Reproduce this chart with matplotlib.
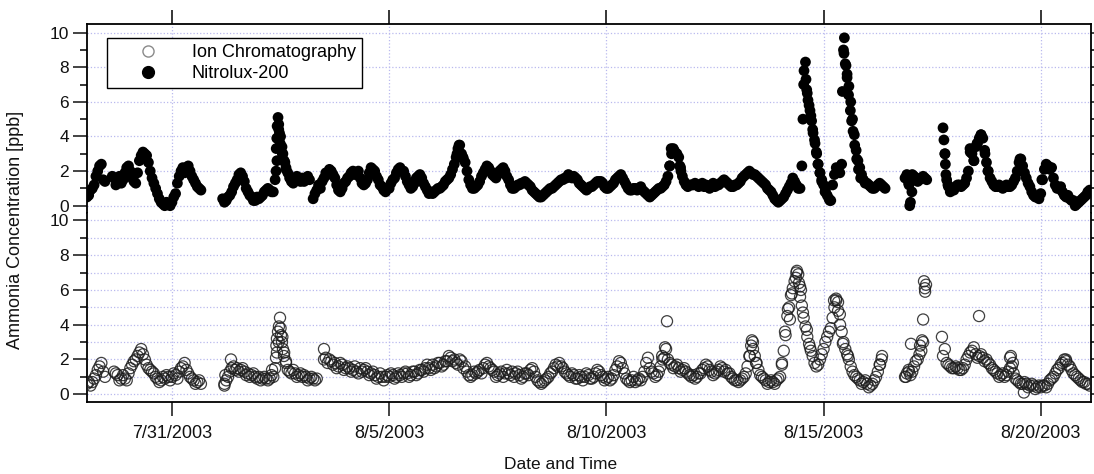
import numpy as np
import matplotlib
matplotlib.use('Agg')
import matplotlib.pyplot as plt
import matplotlib.dates as mdates
from matplotlib.ticker import MultipleLocator, FixedLocator, FuncFormatter
from matplotlib.lines import Line2D

plt.rcParams['font.family'] = ['Liberation Sans', 'DejaVu Sans']

nan = np.nan
start = np.datetime64('2003-07-29T00:00')
step_hours = 2  # readings on even hours (…_even) and odd hours (…_odd)

# Nitrolux-200 [ppb] at even hours 0,2,...,22 (one row per day)
nitrolux_even = [
    nan, 0.6, 1.0, 1.7, 2.3, 1.5, nan, nan, 1.6, 1.4, 1.3, 1.9,   # 7/29
    2.3, 1.6, 1.3, 2.6, 3.1, 2.9, 2.0, 1.3, 0.7, 0.2, 0.0, 0.1,   # 7/30
    0.2, 0.7, 1.7, 2.2, 2.2, 2.0, 1.5, 1.1, 0.9, nan, nan, nan,   # 7/31
    nan, nan, 0.4, 0.3, 0.6, 1.1, 1.5, 1.9, 1.4, 0.8, 0.5, 0.3,   # 8/1
    0.4, 0.6, 0.9, 0.9, 0.8, 2.6, 4.0, 2.6, 1.9, 1.4, 1.5, 1.6,   # 8/2
    1.6, 1.6, 1.5, 0.4, 0.9, 1.0, 1.6, 1.8, 2.0, 1.6, 0.9, 1.0,   # 8/3
    1.4, 1.7, 2.0, 1.9, 1.6, 1.2, 1.5, 2.2, 2.0, 1.5, 1.1, 0.8,   # 8/4
    1.0, 1.5, 1.9, 2.2, 2.0, 1.4, 1.0, 1.3, 1.7, 1.6, 1.1, 0.7,   # 8/5
    0.7, 0.9, 1.0, 1.2, 1.5, 1.8, 2.4, 3.3, 3.0, 2.5, 1.5, 1.0,   # 8/6
    1.1, 1.4, 1.9, 2.3, 2.0, 1.7, 1.8, 2.1, 2.0, 1.5, 1.0, 1.1,   # 8/7
    1.2, 1.3, 1.3, 1.1, 0.8, 0.6, 0.5, 0.7, 0.9, 1.0, 1.2, 1.4,   # 8/8
    1.5, 1.6, 1.7, 1.7, 1.5, 1.2, 1.0, 1.0, 1.1, 1.3, 1.4, 1.3,   # 8/9
    1.0, 1.1, 1.3, 1.6, 1.8, 1.4, 1.0, 0.9, 1.0, 1.0, 0.9, 0.7,   # 8/10
    0.5, 0.7, 0.9, 1.0, 1.2, 1.7, 3.0, 3.1, 2.8, 1.7, 1.2, 1.2,   # 8/11
    1.2, 1.2, 1.2, 1.1, 1.1, 1.2, 1.1, 1.2, 1.4, 1.4, 1.2, 1.1,   # 8/12
    1.2, 1.4, 1.7, 1.9, 1.9, 1.8, 1.6, 1.4, 1.2, 0.9, 0.6, 0.3,   # 8/13
    0.3, 0.5, 0.9, 1.3, 1.4, 1.0, 2.3, 8.3, 5.8, 4.4, 3.1, 1.9,   # 8/14
    1.2, 0.6, 0.3, 1.8, 2.0, 2.4, 8.2, 6.9, 5.0, 3.2, 2.2, 1.5,   # 8/15
    1.3, 1.1, 1.0, 1.2, 1.2, 1.0, nan, nan, nan, nan, nan, 1.8,   # 8/16
    0.2, 1.7, 1.4, 1.6, 1.6, nan, nan, nan, nan, 4.5, 1.5, 0.8,   # 8/17
    0.9, 1.2, 1.1, 1.3, 2.0, 3.0, 3.4, 3.9, 3.9, 2.5, 1.6, 1.2,   # 8/18
    1.1, 1.1, 1.1, 1.1, 1.2, 1.6, 2.5, 2.3, 1.6, 1.1, 0.6, 0.5,   # 8/19
    0.7, 2.1, 2.3, 2.2, 1.2, 1.0, 0.8, 0.5, 0.4, 0.3, 0.1, 0.3,   # 8/20
    0.5, 0.8,                                                     # 8/21
]
# Nitrolux-200 [ppb] at odd hours 1,3,...,23
nitrolux_odd = [
    0.5, 0.9, 1.2, 2.0, 2.4, 1.4, nan, 1.7, 1.2, 1.7, 1.5, 2.2,   # 7/29
    2.0, 1.4, 1.9, 2.9, 3.0, 2.5, 1.6, 1.0, 0.4, 0.1, 0.2, 0.0,   # 7/30
    0.5, 1.3, 2.0, 1.9, 2.3, 1.7, 1.3, 1.0, nan, nan, nan, nan,   # 7/31
    nan, nan, 0.2, 0.5, 0.8, 1.3, 1.8, 1.7, 1.0, 0.6, 0.3, 0.5,   # 8/1
    0.5, 0.8, 1.0, 0.8, 1.5, 4.4, 3.0, 2.2, 1.6, 1.3, 1.7, 1.4,   # 8/2
    1.4, 1.7, nan, 0.7, 1.2, 1.4, 1.9, 2.1, 1.8, 1.2, 0.8, 1.3,   # 8/3
    1.6, 1.9, 1.8, 2.0, 1.3, 1.3, 1.9, 2.1, 1.7, 1.2, 0.9, 1.0,   # 8/4
    1.3, 1.6, 2.1, 2.0, 1.7, 1.2, 1.1, 1.6, 1.8, 1.3, 0.9, 0.8,   # 8/5
    0.8, 1.0, 1.1, 1.4, 1.6, 2.1, 2.8, 3.5, 2.7, 2.0, 1.2, 1.0,   # 8/6
    1.2, 1.7, 2.1, 2.2, 1.8, 1.6, 2.0, 2.2, 1.7, 1.2, 1.0, 1.2,   # 8/7
    1.3, 1.4, 1.2, 0.9, 0.7, 0.5, 0.6, 0.8, 1.0, 1.1, 1.3, 1.5,   # 8/8
    1.6, 1.8, 1.6, 1.6, 1.3, 1.1, 0.9, 1.1, 1.2, 1.4, 1.4, 1.1,   # 8/9
    1.0, 1.2, 1.5, 1.7, 1.6, 1.2, 0.9, 1.0, 0.9, 1.1, 0.8, 0.6,   # 8/10
    0.6, 0.8, 1.0, 1.1, 1.4, 2.3, 3.3, 3.0, 2.2, 1.4, 1.1, 1.2,   # 8/11
    1.3, 1.1, 1.3, 1.2, 1.0, 1.3, 1.2, 1.3, 1.5, 1.3, 1.1, 1.2,   # 8/12
    1.3, 1.6, 1.8, 2.0, 1.8, 1.7, 1.5, 1.3, 1.0, 0.8, 0.4, 0.2,   # 8/13
    0.4, 0.7, 1.1, 1.6, 1.2, 1.0, 7.0, 6.5, 5.2, 3.8, 2.4, 1.5,   # 8/14
    0.9, 0.4, 1.2, 2.2, 1.9, 9.0, 7.6, 6.0, 4.1, 2.6, 1.8, 1.3,   # 8/15
    1.2, 1.0, 1.1, 1.3, 1.1, nan, nan, nan, nan, nan, 1.6, 1.3,   # 8/16
    1.8, 1.6, 1.5, 1.7, 1.5, nan, nan, nan, nan, 3.0, 1.1, 0.9,   # 8/17
    1.1, 1.2, 1.2, 1.6, 3.1, 2.6, 3.6, 4.1, 3.2, 2.0, 1.4, 1.1,   # 8/18
    1.2, 1.0, 1.2, 1.1, 1.4, 2.0, 2.7, 1.9, 1.3, 0.8, 0.5, 0.4,   # 8/19
    1.5, 2.4, 2.1, 1.6, 1.0, 1.1, 0.6, 0.6, 0.3, 0.0, 0.2, 0.4,   # 8/20
    0.6, 0.9,                                                     # 8/21
]

# Ion Chromatography [ppb] at even hours
ic_even = [
    nan, 0.7, 0.7, 1.1, 1.6, 1.3, nan, nan, 1.3, 1.1, 0.9, 0.9,   # 7/29
    1.2, 1.7, 2.0, 2.4, 2.3, 1.7, 1.4, 1.2, 0.9, 0.8, 0.9, 1.0,   # 7/30
    1.0, 1.1, 1.3, 1.6, 1.4, 1.0, 0.8, 0.7, 0.6, nan, nan, nan,   # 7/31
    nan, nan, nan, 0.8, 1.3, 1.6, 1.5, 1.4, 1.3, 1.2, 1.1, 1.0,   # 8/1
    1.0, 0.9, 0.9, 0.9, 1.0, 2.4, 3.8, 2.4, 1.4, 1.2, 1.2, 1.1,   # 8/2
    1.0, 1.0, 0.9, 0.9, 0.9, nan, 2.0, 1.8, 1.9, 1.8, 1.6, 1.7,   # 8/3
    1.5, 1.5, 1.4, 1.3, 1.5, 1.4, 1.3, 1.2, 1.1, 1.0, 1.0, 1.0,   # 8/4
    1.0, 1.1, 1.0, 1.1, 1.2, 1.2, 1.1, 1.3, 1.2, 1.4, 1.5, 1.5,   # 8/5
    1.7, 1.6, 1.8, 1.7, 1.9, 2.1, 2.0, 1.7, 1.9, 1.6, 1.1, 1.1,   # 8/6
    1.2, 1.4, 1.5, 1.8, 1.5, 1.3, 1.1, 1.3, 1.2, 1.2, 1.3, 1.2,   # 8/7
    1.1, 1.0, 1.2, 1.4, 1.3, 0.8, 0.6, 0.8, 1.0, 1.3, 1.7, 1.8,   # 8/8
    1.5, 1.2, 1.0, 1.1, 0.9, 1.0, 1.0, 1.1, 0.9, 1.2, 1.3, 1.0,   # 8/9
    0.9, 0.8, 1.1, 1.6, 1.8, 1.2, 0.8, 0.8, 0.7, 0.9, 1.0, 1.8,   # 8/10
    1.5, 1.2, 1.1, 1.6, 2.1, 2.0, 1.7, 1.6, 1.5, 1.4, 1.3, 1.1,   # 8/11
    1.1, 1.0, 1.2, 1.5, 1.6, 1.3, 1.2, 1.4, 1.5, 1.4, 1.2, 0.9,   # 8/12
    0.8, 0.8, 1.0, 1.6, 2.8, 2.2, 1.4, 1.0, 0.8, 0.7, 0.7, 0.8,   # 8/13
    1.0, 2.5, 4.5, 5.7, 6.5, 6.9, 5.1, 3.9, 2.9, 2.2, 1.6, 2.0,   # 8/14
    2.6, 3.3, 3.8, 5.0, 5.3, 3.6, 2.6, 2.0, 1.3, 1.0, 0.8, 0.7,   # 8/15
    0.6, 0.5, 0.8, 1.3, 2.0, nan, nan, nan, nan, nan, nan, 1.2,   # 8/16
    1.1, 1.6, 2.0, 2.5, 6.1, nan, nan, nan, nan, 2.2, 1.8, 1.6,   # 8/17
    1.5, 1.5, 1.4, 1.7, 2.2, 2.5, 2.3, 2.2, 2.1, 2.0, 1.7, 1.4,   # 8/18
    1.2, 1.1, 1.0, 1.3, 1.6, 0.9, 0.7, 0.6, 0.6, 0.5, 0.5, 0.4,   # 8/19
    0.4, 0.5, 0.6, 0.9, 1.2, 1.5, 1.8, 1.9, 1.6, 1.2, 1.0, 0.8,   # 8/20
    0.7, 0.6,                                                     # 8/21
]
# Ion Chromatography [ppb] at odd hours
ic_odd = [
    0.6, 0.5, 0.9, 1.4, 1.8, 1.0, nan, nan, 1.2, 0.8, 1.1, 0.8,   # 7/29
    1.5, 1.9, 2.2, 2.6, 2.0, 1.5, 1.3, 1.0, 0.7, 1.0, 1.1, 0.8,   # 7/30
    1.2, 0.9, 1.5, 1.8, 1.2, 0.9, 0.6, 0.8, nan, nan, nan, nan,   # 7/31
    nan, nan, 0.6, 1.0, 1.5, 1.4, 1.3, 1.5, 1.1, 1.0, 1.2, 0.9,   # 8/1
    0.8, 1.0, 0.8, 1.1, 1.5, 3.0, 3.3, 1.8, 1.3, 1.4, 1.0, 1.2,   # 8/2
    1.1, 0.8, 1.0, 0.8, nan, nan, 2.1, 2.0, 1.7, 1.5, 1.8, 1.4,   # 8/3
    1.6, 1.3, 1.6, 1.2, 1.3, 1.5, 1.1, 1.3, 0.9, 1.2, 0.8, 1.1,   # 8/4
    1.2, 0.9, 1.2, 1.0, 1.3, 1.0, 1.3, 1.1, 1.4, 1.3, 1.7, 1.4,   # 8/5
    1.5, 1.8, 1.6, 1.9, 2.2, 1.9, 1.8, 2.0, 1.5, 1.3, 1.0, 1.3,   # 8/6
    1.3, 1.2, 1.7, 1.6, 1.4, 1.0, 1.2, 1.0, 1.4, 1.1, 1.0, 1.3,   # 8/7
    0.9, 1.2, 1.1, 1.5, 1.0, 0.7, 0.7, 0.9, 1.2, 1.5, 1.6, 1.6,   # 8/8
    1.3, 1.1, 1.2, 0.9, 1.1, 0.8, 1.2, 0.9, 1.0, 1.4, 1.1, 0.8,   # 8/9
    1.0, 0.9, 1.4, 1.9, 1.5, 0.9, 0.7, 1.0, 0.8, 0.8, 1.3, 2.1,   # 8/10
    1.3, 1.0, 1.3, 2.0, 2.6, 1.8, 1.5, 1.7, 1.3, 1.5, 1.2, 1.0,   # 8/11
    0.9, 1.2, 1.4, 1.7, 1.4, 1.1, 1.3, 1.6, 1.3, 1.2, 1.0, 0.8,   # 8/12
    0.7, 0.9, 1.2, 2.2, 3.0, 1.8, 1.1, 0.9, 0.6, 0.8, 0.6, 0.9,   # 8/13
    1.7, 3.4, 5.0, 6.1, 7.0, 6.2, 4.4, 3.3, 2.5, 1.8, 1.7, 2.3,   # 8/14
    3.0, 3.6, 4.4, 5.4, 4.6, 3.0, 2.3, 1.6, 1.1, 0.9, 0.6, 0.8,   # 8/15
    0.4, 0.6, 1.0, 1.7, nan, nan, nan, nan, nan, nan, 1.0, 1.4,   # 8/16
    1.3, 1.9, 2.3, 3.0, nan, nan, nan, nan, nan, 2.6, 1.7, 1.5,   # 8/17
    1.6, 1.4, 1.5, 2.0, 2.4, 2.7, 2.1, 2.3, 1.9, 1.8, 1.5, 1.3,   # 8/18
    1.0, 1.2, 1.1, 1.5, 1.2, 0.8, 0.6, 0.7, 0.4, 0.6, 0.3, 0.5,   # 8/19
    0.5, 0.4, 0.8, 1.0, 1.4, 1.7, 2.0, 1.7, 1.4, 1.1, 0.9, 0.7,   # 8/20
    0.6, 0.5,                                                     # 8/21
]

# additional readings in fast-changing episodes (hours after 7/29 00:00, ppb)
nitrolux_extra_hours = [
    105.5, 105.6, 105.9, 106.1, 106.6, 107.0, 107.4, 107.8, 108.8, 109.3, 110.4, 111.0,
    205.5, 206.6, 208.8,
    323.0, 323.8, 325.3, 328.6, 329.2,
    396.6, 397.2, 398.3, 398.7, 399.4, 400.5, 401.4, 402.2, 403.3, 404.2, 404.9,
    406.0, 407.0, 408.8, 411.5,
    418.4, 419.3, 419.5, 420.4, 421.0, 421.8, 422.8, 423.5, 424.3, 425.2, 426.3,
    427.3, 428.5,
    455.2, 455.6, 456.8,
    474.5, 475.1, 475.3, 475.6, 476.7,
    488.9, 491.1, 492.8, 495.0, 497.2, 498.8,
    516.5, 528.6,
]
nitrolux_extra_ppb = [
    2.0, 3.3, 3.9, 4.6, 5.1, 4.7, 4.2, 3.6, 3.4, 3.0, 2.5, 2.1,
    3.0, 3.5, 2.8,
    2.3, 3.3, 3.2, 2.3, 2.0,
    5.0, 7.8, 7.3, 6.7, 6.1, 5.5, 4.9, 4.2, 3.6, 3.0, 2.4,
    1.9, 1.4, 0.8, 0.3,
    6.6, 8.8, 9.7, 8.1, 7.4, 6.4, 5.5, 4.9, 4.3, 3.5, 2.7,
    2.1, 1.6,
    1.2, 0.0, 0.8,
    3.8, 3.0, 2.4, 1.8, 1.2,
    3.3, 2.6, 3.6, 4.1, 3.0, 2.0,
    2.7, 1.5,
]

ic_extra_hours = [
    77.0, 77.5, 80.6,
    103.3, 105.5, 105.7, 106.0, 106.6, 107.1, 107.7, 108.2, 108.8, 109.3, 109.9, 111.0,
    132.0,
    318.8, 320.4, 321.5,
    367.3, 368.4, 369.0, 370.7,
    385.0, 386.7, 388.3, 389.4, 390.5, 392.7, 393.3, 394.4, 395.0, 395.5, 396.6,
    398.8, 400.5,
    413.8, 414.9, 416.0, 417.1, 418.7, 421.5,
    439.2, 440.3,
    453.5, 455.2, 456.3, 461.3, 462.4, 463.0, 463.5, 464.1, 464.6, 473.4,
    493.9,
    511.0, 511.5, 512.6, 518.7,
    541.9,
]
ic_extra_ppb = [
    0.5, 1.1, 2.0,
    1.4, 2.1, 2.8, 3.2, 3.6, 3.9, 4.4, 3.4, 3.0, 2.6, 2.2, 1.9,
    2.6,
    2.2, 2.7, 4.2,
    2.2, 3.1, 2.6, 1.8,
    1.8, 3.6, 4.9, 4.3, 5.8, 6.7, 7.1, 6.4, 5.6, 6.0, 4.7,
    3.7, 2.7,
    5.4, 5.5, 4.8, 4.0, 2.9, 2.2,
    1.7, 2.2,
    1.0, 1.3, 2.9, 2.8, 3.1, 4.3, 6.5, 5.9, 6.3, 3.3,
    4.5,
    2.1, 2.2, 1.8, 0.1,
    2.0,
]

tick_dates = ['2003-07-31', '2003-08-05', '2003-08-10', '2003-08-15', '2003-08-20']
series_labels = ['Ion Chromatography', 'Nitrolux-200']


def to_dates(hours):
    minutes = np.round(np.asarray(hours, dtype=float) * 60).astype('int64')
    return start + minutes.astype('timedelta64[m]')


def collect(even, odd, extra_h, extra_v):
    h_even = np.arange(len(even)) * step_hours
    h_odd = np.arange(len(odd)) * step_hours + 1
    t = np.concatenate([to_dates(h_even), to_dates(h_odd), to_dates(extra_h)])
    v = np.concatenate([np.array(even, float), np.array(odd, float), np.array(extra_v, float)])
    return t, v


t_nitro, v_nitro = collect(nitrolux_even, nitrolux_odd, nitrolux_extra_hours, nitrolux_extra_ppb)
t_ic, v_ic = collect(ic_even, ic_odd, ic_extra_hours, ic_extra_ppb)

fig = plt.figure(figsize=(10.94, 4.74), dpi=100)
ax_top = fig.add_axes([0.0795, 0.5496, 0.9175, 0.3998])
ax_bot = fig.add_axes([0.0795, 0.1525, 0.9175, 0.3971], sharex=ax_top)

grid_kw = dict(color='#b9b9ee', linestyle=':', linewidth=0.9)

ax_top.scatter(t_nitro, v_nitro, s=60, c='black', edgecolors='none', zorder=3)
ax_bot.scatter(t_ic, v_ic, s=64, facecolors='none', edgecolors='#1e1e1e',
               linewidths=0.9, alpha=0.85, zorder=3)

ax_top.set_ylim(-0.45, 10.5)
ax_bot.set_ylim(-0.43, 10.4)
ax_top.set_xlim(to_dates([1.05])[0], to_dates([555.6])[0])

tick_nums = mdates.date2num(np.array(tick_dates, dtype='datetime64[D]'))


def fmt_date(x, pos=None):
    d = mdates.num2date(x)
    return f"{d.month}/{d.day}/{d.year}"


for ax in (ax_top, ax_bot):
    ax.set_axisbelow(True)
    ax.xaxis.set_major_locator(FixedLocator(tick_nums))
    ax.xaxis.set_major_formatter(FuncFormatter(fmt_date))
    ax.yaxis.set_major_locator(MultipleLocator(2))
    ax.yaxis.set_minor_locator(MultipleLocator(1))
    ax.tick_params(axis='y', which='major', left=True, right=True, direction='out',
                   length=10, width=1.1, labelsize=12.5, pad=3, colors='#111111')
    ax.tick_params(axis='y', which='minor', left=True, right=True, direction='out',
                   length=5, width=1.1)
    for sp in ax.spines.values():
        sp.set_linewidth(1.3)
    ax.grid(axis='x', which='major', **grid_kw)

ax_top.grid(axis='y', which='major', **grid_kw)
ax_bot.grid(axis='y', which='both', **grid_kw)

ax_top.spines['bottom'].set_visible(False)
ax_bot.spines['top'].set_visible(False)
ax_top.tick_params(axis='x', which='both', top=True, bottom=False, labeltop=False,
                   labelbottom=False, direction='out', length=10, width=1.1)
ax_bot.tick_params(axis='x', which='both', top=False, bottom=True, labelbottom=True,
                   direction='out', length=10, width=1.1, labelsize=13, pad=7,
                   colors='#111111')

handles = [
    Line2D([], [], marker='o', linestyle='none', markersize=8, markerfacecolor='none',
           markeredgecolor='#8a8a8a', markeredgewidth=1.0),
    Line2D([], [], marker='o', linestyle='none', markersize=8.5, markerfacecolor='black',
           markeredgecolor='black'),
]
leg = fig.legend(handles, series_labels, loc='upper left', bbox_to_anchor=(0.0978, 0.9198),
                 frameon=True, fancybox=False, edgecolor='black', framealpha=1,
                 fontsize=13, handlelength=3.8, handletextpad=0.55, borderpad=0.35,
                 labelspacing=0.2, borderaxespad=0)
leg.get_frame().set_linewidth(1.0)

fig.text(0.0142, 0.5148, 'Ammonia Concentration [ppb]', rotation=90, ha='center',
         va='center', fontsize=13, color='#111111')
fig.text(0.512, 0.019, 'Date and Time', ha='center', va='center', fontsize=12.5,
         color='#111111')

fig.savefig('out.png', dpi=100)
